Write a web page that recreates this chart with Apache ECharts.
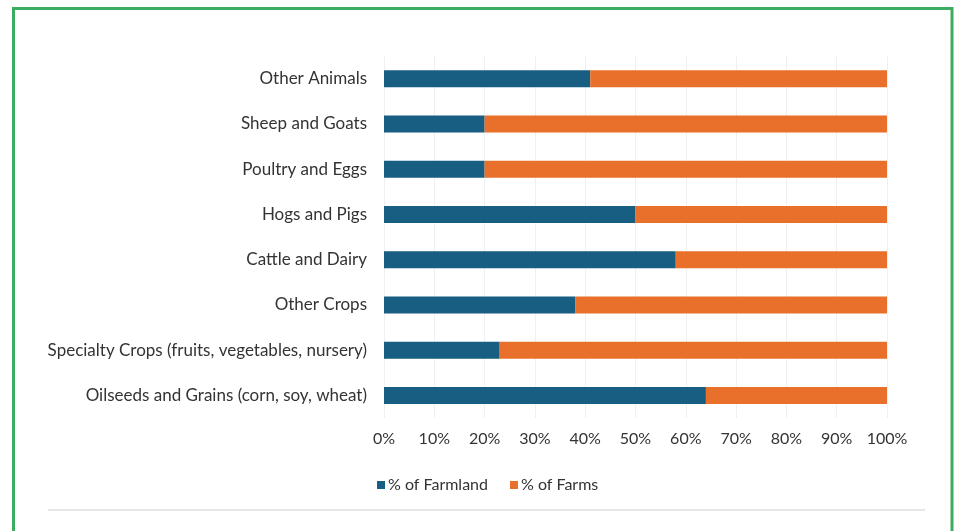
<!DOCTYPE html>
<html>
<head>
<meta charset="utf-8">
<script src="https://cdn.jsdelivr.net/npm/echarts@6/dist/echarts.min.js"></script>
<style>
  html, body { margin: 0; padding: 0; background: #ffffff; }
  #chart { width: 958px; height: 531px; }
</style>
</head>
<body>
<div id="chart"></div>
<script>
// Farm types, listed bottom to top as they appear on the category axis
const categories = [
  'Oilseeds and Grains (corn, soy, wheat)',
  'Specialty Crops (fruits, vegetables, nursery)',
  'Other Crops',
  'Cattle and Dairy',
  'Hogs and Pigs',
  'Poultry and Eggs',
  'Sheep and Goats',
  'Other Animals'
];
// Share of farmland held by each farm type (%)
const farmlandShare = [64, 23, 38, 58, 50, 20, 20, 41];
// Share of farms (%) — remainder of each 100% bar
const farmsShare = [36, 77, 62, 42, 50, 80, 80, 59];
const seriesNames = ['% of Farmland', '% of Farms'];
const tickStep = 10;

const BLUE = '#175e82';
const ORANGE = '#e8702b';
const FONT = 'Lato';
const TEXT = '#333333';

const chart = echarts.init(document.getElementById('chart'), null, { renderer: 'canvas' });

chart.setOption({
  animation: false,
  backgroundColor: '#ffffff',
  textStyle: { fontFamily: FONT },
  graphic: [
    {
      type: 'rect',
      shape: { x: 13.5, y: 8.5, width: 938.5, height: 600 },
      style: { fill: 'none', stroke: '#3dab60', lineWidth: 3 },
      silent: true
    },
    {
      type: 'line',
      shape: { x1: 48, y1: 510, x2: 925, y2: 510 },
      style: { stroke: '#e6e6e6', lineWidth: 2 },
      silent: true
    }
  ],
  legend: {
    data: seriesNames,
    left: 372,
    top: 472,
    itemWidth: 8,
    itemHeight: 8,
    itemGap: 22,
    icon: 'rect',
    textStyle: { color: TEXT, fontSize: 16, fontFamily: FONT, padding: [0, 0, 0, -2] }
  },
  grid: {
    left: 384,
    right: 71,
    top: 56,
    height: 362,
    containLabel: false
  },
  xAxis: {
    type: 'value',
    min: 0,
    max: 100,
    interval: tickStep,
    axisLine: { show: false },
    axisTick: { show: false },
    splitLine: { show: true, lineStyle: { color: '#f0f0f0', width: 1 } },
    axisLabel: {
      formatter: v => v + '%',
      color: TEXT,
      fontSize: 16,
      fontFamily: FONT,
      margin: 13
    }
  },
  yAxis: {
    type: 'category',
    data: categories,
    axisLine: { show: false },
    axisTick: { show: false },
    axisLabel: {
      color: TEXT,
      fontSize: 17,
      fontFamily: FONT,
      margin: 17
    }
  },
  series: [
    {
      name: seriesNames[0],
      type: 'bar',
      stack: 'share',
      data: farmlandShare,
      barWidth: 17,
      itemStyle: { color: BLUE }
    },
    {
      name: seriesNames[1],
      type: 'bar',
      stack: 'share',
      data: farmsShare,
      barWidth: 17,
      itemStyle: { color: ORANGE }
    }
  ]
});
</script>
</body>
</html>
